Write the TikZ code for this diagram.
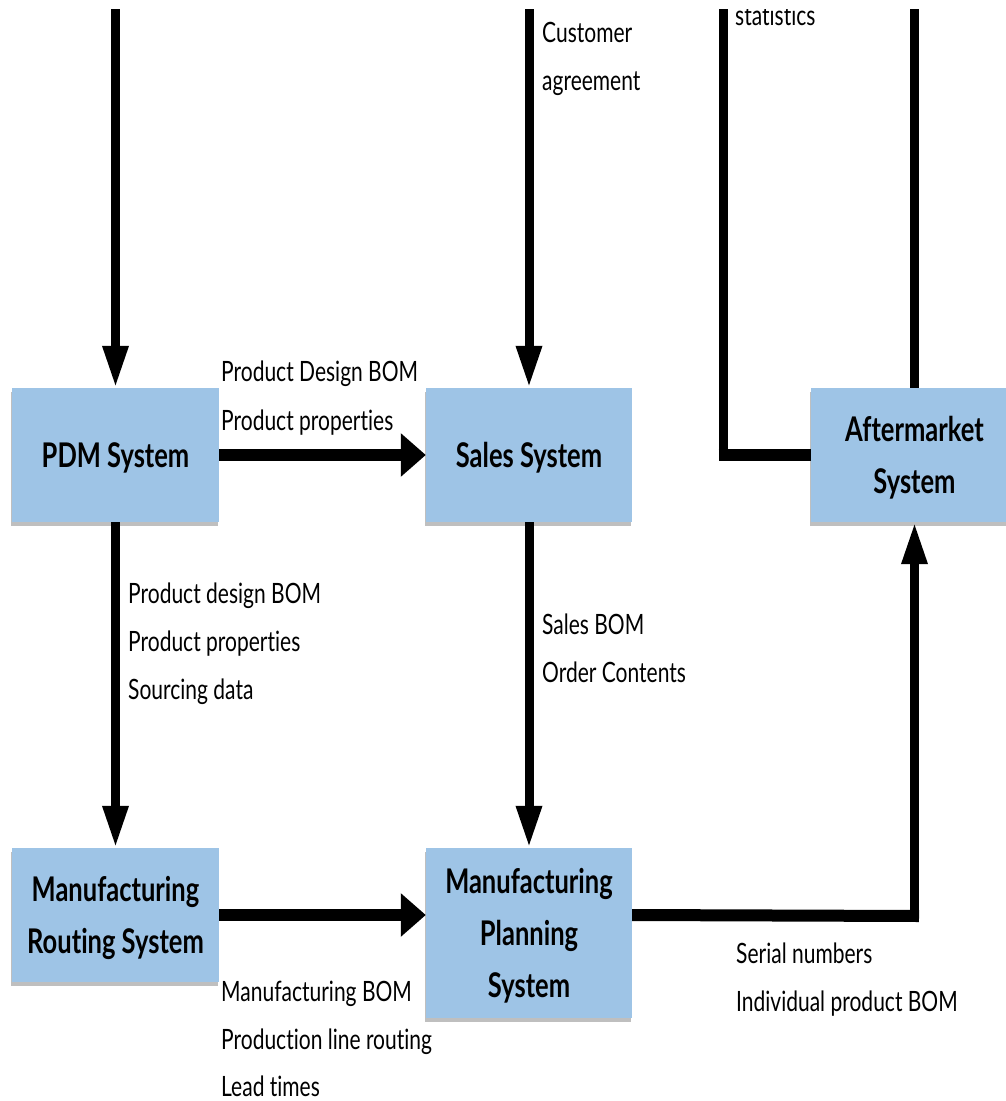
\documentclass[tikz,border=0pt]{standalone}
\usepackage{fontspec}
\setmainfont[FakeStretch=0.75,Ligatures=NoCommon]{Lato}
\usetikzlibrary{arrows.meta,shadows}
\definecolor{boxblue}{RGB}{158,196,230}
\tikzset{
  sysbox/.style={rectangle, fill=boxblue, draw=none, inner sep=0pt, align=center,
    text depth=0pt,
    font=\fontsize{34}{52}\selectfont\bfseries,
    drop shadow={shadow xshift=-1pt, shadow yshift=-4pt, opacity=0.25, fill=black}},
  lbl/.style={anchor=base west, inner sep=0pt, font=\fontsize{28}{48}\selectfont},
  vline/.style={line width=9pt},
  hline/.style={line width=12pt},
  varrow/.style={vline, -{Triangle[length=42pt,width=24pt]}},
  harrow/.style={hline, -{Triangle[length=25pt,width=42pt]}},
}
\begin{document}
\begin{tikzpicture}[x=1pt,y=-1pt]
\useasboundingbox (0,0) rectangle (1006,1101);
\begin{scope}
\clip (0,9) rectangle (1006,1101);
% systems
\node[sysbox, minimum width=207pt, minimum height=134pt] (pdm) at (115.5,455) {PDM System};
\node[sysbox, minimum width=206pt, minimum height=134pt] (sales) at (529,455) {Sales System};
\node[sysbox, minimum width=207pt, minimum height=134pt] (after) at (914.5,455) {Aftermarket\\System};
\node[sysbox, minimum width=207pt, minimum height=134pt] (route) at (115.5,915) {Manufacturing\\Routing System};
\node[sysbox, minimum width=206pt, minimum height=170pt] (plan) at (529,933) {Manufacturing\\Planning\\System};
% free ends and corners
\coordinate (tpdm) at (115.5,9);
\coordinate (tsales) at (529,9);
\coordinate (tafter) at (914.5,9);
\coordinate (tstat) at (723,9);
\coordinate (cstat) at (723,461);
\coordinate (cstath) at (718.5,455);
\coordinate (cplan) at (919,916);
\coordinate (cplanv) at (914.5,922);
% connectors
\draw[varrow] (tpdm) -- (pdm.north);
\draw[varrow] (tsales) -- (sales.north);
\draw[harrow] (pdm.east) -- (sales.west);
\draw[varrow] (pdm.south) -- (route.north);
\draw[varrow] (sales.south) -- (plan.north);
\draw[harrow] (route.east) -- (route.east -| plan.west);
\draw[hline] (route.east -| plan.east) -- (cplan);
\draw[varrow] (cplanv) -- (after.south);
\draw[vline] (after.north) -- (tafter);
\draw[vline] (tstat) -- (cstat);
\draw[hline] (cstath) -- (after.west);
% labels
\node[lbl] (c1) at (542,42) {Customer};
\node[lbl] (c2) at (542,90) {agreement};
\node[lbl] (st) at (735,25) {statistics};
\node[lbl] (a1) at (221,381) {Product Design BOM};
\node[lbl] (a2) at (221,430) {Product properties};
\node[lbl] (b1) at (128,603) {Product design BOM};
\node[lbl] (b2) at (128,651) {Product properties};
\node[lbl] (b3) at (128,699) {Sourcing data};
\node[lbl] (s1) at (542,634) {Sales BOM};
\node[lbl] (s2) at (542,682) {Order Contents};
\node[lbl] (m1) at (221,1001) {Manufacturing BOM};
\node[lbl] (m2) at (221,1049) {Production line routing};
\node[lbl] (m3) at (221,1096) {Lead times};
\node[lbl] (r1) at (736,963) {Serial numbers};
\node[lbl] (r2) at (736,1011) {Individual product BOM};
\end{scope}
\end{tikzpicture}
\end{document}
